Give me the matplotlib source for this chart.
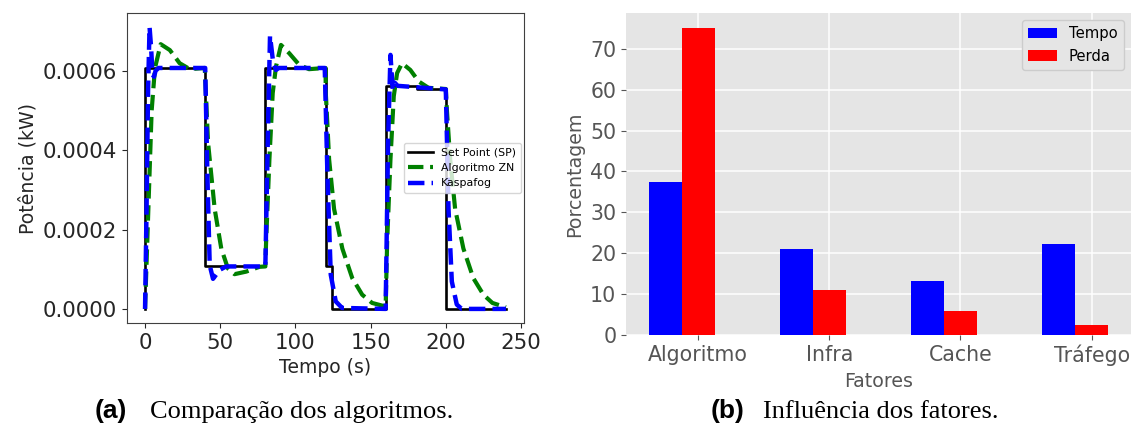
import matplotlib
matplotlib.use("Agg")
import matplotlib.pyplot as plt
import numpy as np

# --- (a) power response: points ---
sp_t = [0, 0, 40, 40, 80, 80, 120, 120, 124, 124, 160, 160, 181, 181, 200, 200, 240]
sp_v = [0, 0.000607, 0.000607, 0.000107, 0.000107, 0.000607, 0.000607, 0.000107,
        0.000107, 0, 0, 0.000562, 0.000562, 0.000553, 0.000553, 0, 0]

zn_t = [0, 2.2, 4.4, 6.6, 10.4, 16.5, 23, 29.8, 39.7, 41.9, 46.3, 50.7, 55.1, 59.5,
        67.3, 76, 80, 80.5, 82.7, 84.9, 87.1, 90.4, 95.9, 102.5, 109, 120, 120.2,
        122.4, 125.7, 131.2, 137.8, 144.4, 151, 157.7, 160, 161, 163.2, 165.4, 167.6,
        170.9, 176.4, 182, 188.5, 200, 200.7, 202.9, 206.2, 211.7, 218.3, 225, 231, 240]
zn_v = [0, 0.000252, 0.0005, 0.000607, 0.000667, 0.000652, 0.000619, 0.000604,
        0.000607, 0.000419, 0.000252, 0.000152, 0.000102, 0.0000875, 0.000094,
        0.000106, 0.000107, 0.000169, 0.000377, 0.000544, 0.000611, 0.000665,
        0.000644, 0.000615, 0.000604, 0.000607, 0.000544, 0.000377, 0.000252,
        0.000152, 0.0000775, 0.0000358, 0.000015, 0.0000083, 0.000007, 0.000169,
        0.000377, 0.000536, 0.000594, 0.000619, 0.000602, 0.000573, 0.000557,
        0.000554, 0.000502, 0.000377, 0.000252, 0.000152, 0.0000775, 0.0000358,
        0.000015, 0.000004]

kf_t = [0, 1, 2, 3, 4, 5, 6, 7, 9, 40, 41.5, 43, 45.2, 49.6, 54, 80, 81.6, 83.1, 85,
        87, 89, 119.5, 121.3, 123.5, 126.8, 131, 160, 161.6, 163.2, 164.7, 166, 168,
        200, 201.8, 204, 207.3, 210.6, 240]
kf_v = [0, 0.00025, 0.00055, 0.00071, 0.00066, 0.00059, 0.000585, 0.0006, 0.000607,
        0.000607, 0.00033, 0.00011, 0.0000758, 0.0000983, 0.000107, 0.000107,
        0.000419, 0.000688, 0.000627, 0.000602, 0.000607, 0.000607, 0.000336,
        0.000086, 0.000019, 0.0000025, 0, 0.000419, 0.00064, 0.000553, 0.00057,
        0.000562, 0.000553, 0.000252, 0.000069, 0.000011, 0, 0]

# --- (b) factor influence ---
fatores = ["Algoritmo", "Infra", "Cache", "Tráfego"]
tempo = [37.4, 21.1, 13.1, 22.3]
perda = [75.0, 11.1, 5.8, 2.4]

fig = plt.figure(figsize=(11.31, 4.28), dpi=100)

# left panel
ax1 = fig.add_axes([127 / 1131, 105 / 428, 397 / 1131, 310 / 428])
ax1.plot(sp_t, sp_v, color="black", lw=1.9, label="Set Point (SP)")
ax1.plot(zn_t, zn_v, color="green", lw=3, ls="--", label="Algoritmo ZN")
ax1.plot(kf_t, kf_v, color="blue", lw=3.2, ls="--", label="Kaspafog")
ax1.set_yticks([0, 0.0002, 0.0004, 0.0006])
ax1.set_yticklabels(["0.0000", "0.0002", "0.0004", "0.0006"])
ax1.set_xticks([0, 50, 100, 150, 200, 250])
ax1.tick_params(labelsize=15.4, colors="#262626")
for s in ax1.spines.values():
    s.set_color("#404040")
ax1.set_xlabel("Tempo (s)", fontsize=13.5, color="#262626")
ax1.set_ylabel("Potência (kW)", fontsize=13.6, color="#262626")
ax1.legend(loc="center right", fontsize=7.9, handlelength=2.2, borderaxespad=0.3)

# right panel, ggplot look
ax2 = fig.add_axes([626 / 1131, 93 / 428, 505 / 1131, 322 / 428])
x = np.arange(len(fatores))
ax2.bar(x - 0.25, tempo, 0.25, color="#0000FF", label="Tempo", zorder=3)
ax2.bar(x, perda, 0.25, color="#FF0000", label="Perda", zorder=3)
ax2.set_facecolor("#E5E5E5")
ax2.grid(True, color="white", lw=1.1, zorder=0)
ax2.set_axisbelow(True)
for s in ax2.spines.values():
    s.set_visible(False)
ax2.set_xticks(x)
ax2.set_xticklabels(fatores)
ax2.set_yticks(range(0, 80, 10))
ax2.tick_params(labelsize=14.8, colors="#555555", labelcolor="#555555")
ax2.set_xlabel("Fatores", fontsize=13.7, color="#555555")
ax2.set_ylabel("Porcentagem", fontsize=13.7, color="#555555")
ax2.legend(loc="upper right", fontsize=10.6, facecolor="#E5E5E5", edgecolor="#CCCCCC",
           framealpha=1)

# captions
fig.text(95 / 1131, 10 / 428, "(a)", family="Liberation Sans", weight="bold",
         fontsize=19, va="baseline")
fig.text(150 / 1131, 10 / 428, "Comparação dos algoritmos.", family="Liberation Serif",
         fontsize=19, va="baseline")
fig.text(711 / 1131, 10 / 428, "(b)", family="Liberation Sans", weight="bold",
         fontsize=19, va="baseline")
fig.text(763 / 1131, 10 / 428, "Influência dos fatores.", family="Liberation Serif",
         fontsize=19, va="baseline")

fig.savefig("out.png", dpi=100)
